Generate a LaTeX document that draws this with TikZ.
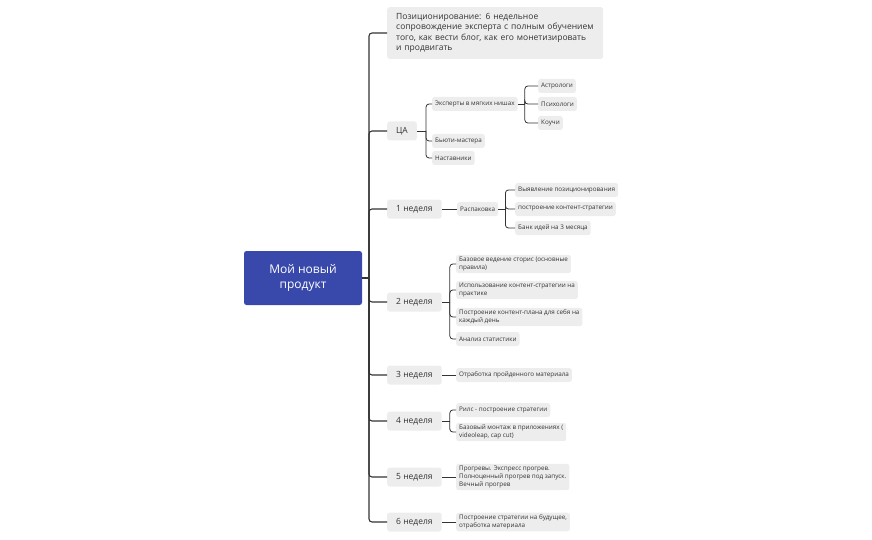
\documentclass[tikz,border=0pt]{standalone}
\usepackage{fontspec}
\setmainfont{Open Sans}
\begin{document}
\begin{tikzpicture}[x=1pt,y=-1pt,
  box/.style={fill=black!7,rounded corners=2.5pt,anchor=west,text=black!80,align=left,inner sep=0pt},
  l1/.style={box,font=\fontsize{8.5}{10.5}\selectfont,minimum height=19pt,inner xsep=9pt},
  l2/.style={box,font=\fontsize{6.3}{8.2}\selectfont,minimum height=14pt,inner xsep=3pt,inner ysep=2pt},
  ln/.style={draw=black!80,line width=0.8pt,rounded corners=3pt}]
\useasboundingbox (0,0) rectangle (872,540);
\node[fill=blue!55!black!75!cyan!10,fill={rgb,255:red,57;green,73;blue,171},rounded corners=2.5pt,text=white,align=center,font=\fontsize{12}{15}\selectfont,minimum width=118pt,minimum height=54pt] (root) at (303,278) {Мой новый\\продукт};
\node[l1,inner ysep=6pt,text width=198pt] (pos) at (387,33) {Позиционирование: 6 недельное сопровождение эксперта с полным обучением того, как вести блог, как его монетизировать и продвигать};
\node[l1] (ca) at (387,131) {ЦА};
\node[l1] (w1) at (387,209) {1 неделя};
\node[l1] (w2) at (387,302) {2 неделя};
\node[l1] (w3) at (387,375) {3 неделя};
\node[l1] (w4) at (387,421) {4 неделя};
\node[l1] (w5) at (387,477) {5 неделя};
\node[l1] (w6) at (387,522) {6 неделя};
\node[l2] (exp) at (432,104) {Эксперты в мягких нишах};
\node[l2] (beau) at (432,141) {Бьюти-мастера};
\node[l2] (nast) at (432,158) {Наставники};
\node[l2] (astr) at (538,86) {Астрологи};
\node[l2] (psy) at (538,104) {Психологи};
\node[l2] (coach) at (538,123) {Коучи};
\node[l2] (rasp) at (457,209) {Распаковка};
\node[l2] (v1) at (515,190) {Выявление позиционирования};
\node[l2] (v2) at (515,209) {построение контент-стратегии};
\node[l2] (v3) at (515,228) {Банк идей на 3 месяца};
\node[l2] (a1) at (456,264) {Базовое ведение сторис (основные\\правила)};
\node[l2] (a2) at (456,290) {Использование контент-стратегии на\\практике};
\node[l2] (a3) at (456,317) {Построение контент-плана для себя на\\каждый день};
\node[l2] (a4) at (456,339) {Анализ статистики};
\node[l2] (b1) at (456,375) {Отработка пройденного материала};
\node[l2] (c1) at (456,410) {Рилс - построение стратегии};
\node[l2] (c2) at (456,432) {Базовый монтаж в приложениях (\\videoleap, cap cut)};
\node[l2] (d1) at (456,477) {Прогревы. Экспресс прогрев.\\Полноценный прогрев под  запуск.\\Вечный прогрев};
\node[l2] (e1) at (456,522) {Построение стратегии на будущее,\\отработка материала};
% spine
\draw[ln,line width=1.1pt] (root.east) -- (369,278) coordinate (sp);
\foreach \n in {pos,ca,w1,w2,w3,w4,w5,w6} \draw[ln,line width=1.1pt] (sp) |- (\n.west);
\draw[ln] (ca.east) -- ++(9,0) coordinate (cab);
\foreach \n in {exp,beau,nast} \draw[ln] (cab) |- (\n.west);
\draw[ln] (exp.east) -- ++(7,0) coordinate (eb);
\foreach \n in {astr,psy,coach} \draw[ln] (eb) |- (\n.west);
\draw[ln] (w1.east) -- (rasp.west);
\draw[ln] (rasp.east) -- ++(7,0) coordinate (rb);
\foreach \n in {v1,v2,v3} \draw[ln] (rb) |- (\n.west);
\draw[ln] (w2.east) -- ++(8,0) coordinate (w2b);
\foreach \n in {a1,a2,a3,a4} \draw[ln] (w2b) |- (\n.west);
\draw[ln] (w3.east) -- (b1.west);
\draw[ln] (w4.east) -- ++(8,0) coordinate (w4b);
\foreach \n in {c1,c2} \draw[ln] (w4b) |- (\n.west);
\draw[ln] (w5.east) -- (d1.west);
\draw[ln] (w6.east) -- (e1.west);
\end{tikzpicture}
\end{document}
